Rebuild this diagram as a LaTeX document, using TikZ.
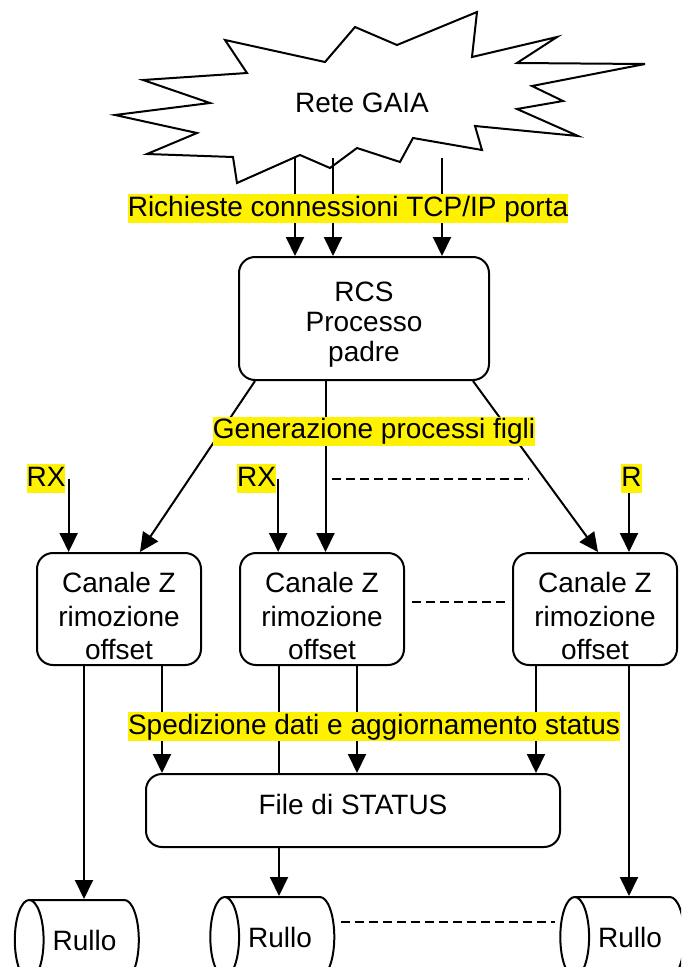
\documentclass[tikz,border=0pt]{standalone}
\usepackage{fontspec}
\setmainfont{Liberation Sans}
\usepackage{tikz}
\usetikzlibrary{arrows.meta}
\usetikzlibrary{shapes.geometric}
\tikzset{
  box/.style={draw, rounded corners=16pt, line width=2pt, align=center, inner sep=0pt, font=\fontsize{28}{30}\selectfont},
  chan/.style={minimum width=164pt, minimum height=112pt, font=\fontsize{28}{33.5}\selectfont},
  tag/.style={fill=yellow, inner xsep=0pt, inner ysep=1pt, text height=21pt, text depth=6pt, font=\fontsize{28}{32}\selectfont},
  roll/.style={draw, cylinder, shape border rotate=180, aspect=1.4, minimum width=80pt, minimum height=124pt, line width=2pt, inner sep=0pt, font=\fontsize{28}{32}\selectfont},
  link/.style={line width=2pt, -{Triangle[length=19pt,width=18pt]}},
  wire/.style={line width=2pt},
  gap/.style={line width=2pt, dash pattern=on 9pt off 5pt}
}

\begin{document}
\begin{tikzpicture}
\useasboundingbox (0pt, 0pt) rectangle (681pt, -967pt);
\clip (0pt, 0pt) rectangle (681pt, -967pt);
% rete
\draw [line width=2pt, fill=white] (225pt,-40pt) -- (247pt,-73pt) -- (143pt,-80pt) -- (210pt,-103pt) -- (115pt,-115pt) -- (197pt,-133pt) -- (147pt,-154pt) -- (233pt,-157pt) -- (237pt,-183pt) -- (300pt,-155pt) -- (330pt,-168pt) -- (357pt,-148pt) -- (400pt,-162pt) -- (413pt,-138pt) -- (482pt,-150pt) -- (475pt,-126pt) -- (578pt,-136pt) -- (517pt,-109pt) -- (563pt,-101pt) -- (532pt,-86pt) -- (645pt,-64pt) -- (517pt,-63pt) -- (557pt,-37pt) -- (472pt,-57pt) -- (477pt,-12pt) -- (397pt,-45pt) -- (355pt,-27pt) -- (325pt,-62pt) -- cycle;
\node (rete) [font=\fontsize{28}{32}\selectfont] at (362.0pt, -103.0pt) {Rete GAIA};
\coordinate (s1) at (295.0pt, -157.0pt);
\coordinate (s2) at (333.0pt, -158.0pt);
\coordinate (s3) at (442.0pt, -158.0pt);
% boxes
\node (rcs) [box, minimum width=250pt, minimum height=123pt] at (364.0pt, -318.5pt) {\rule{0pt}{32.5pt}RCS\\Processo\\padre};
\node (c1) [box, chan] at (119.0pt, -609.0pt) {\rule{0pt}{34.5pt}Canale Z\\rimozione\\offset};
\node (c2) [box, chan] at (322.0pt, -609.0pt) {\rule{0pt}{34.5pt}Canale Z\\rimozione\\offset};
\node (c3) [box, chan] at (595.0pt, -609.0pt) {\rule{0pt}{34.5pt}Canale Z\\rimozione\\offset};
\node (stat) [box, minimum width=414pt, minimum height=73pt, text depth=12pt] at (353.0pt, -810.5pt) {File di STATUS};
\node (r1) [roll] at (84.5pt, -940.0pt) {Rullo};
\node (r2) [roll] at (280.0pt, -937.0pt) {Rullo};
\node (r3) [roll] at (630.0pt, -937.0pt) {Rullo};
\node (rx1) [tag] at (46.0pt, -478.5pt) {RX};
\node (rx2) [tag] at (256.5pt, -478.5pt) {RX};
\node (rx3) [tag] at (631.5pt, -478.5pt) {R};
% arrows
\draw [link] (s1) -- (s1 |- rcs.north);
\draw [link] (s2) -- (s2 |- rcs.north);
\draw [link] (s3) -- (s3 |- rcs.north);
\draw [link] ([xshift=-109pt]rcs.south) -- ([xshift=21pt]c1.north);
\draw [link] ([xshift=-38.5pt]rcs.south) -- ([xshift=3.5pt]c2.north);
\draw [link] ([xshift=109pt]rcs.south) -- ([xshift=3pt]c3.north);
\draw [link] ([xshift=3pt]rx1.east) -- ([xshift=3pt]rx1.east |- c1.north);
\draw [link] ([xshift=2pt]rx2.east) -- ([xshift=2pt]rx2.east |- c2.north);
\draw [link] ([xshift=-2.5pt]rx3.south) -- ([xshift=-2.5pt]rx3.south |- c3.north);
\draw [link] ([xshift=-35pt]c1.south) -- ([xshift=-35pt]c1.south |- r1.north);
\draw [link] ([xshift=43pt]c1.south) -- ([xshift=43pt]c1.south |- stat.north);
\draw [wire] ([xshift=-43pt]c2.south) -- ([xshift=-43pt]c2.south |- stat.north);
\draw [link] ([xshift=35pt]c2.south) -- ([xshift=35pt]c2.south |- stat.north);
\draw [link] ([xshift=-59pt]c3.south) -- ([xshift=-59pt]c3.south |- stat.north);
\draw [link] ([xshift=34pt]c3.south) -- ([xshift=34pt]c3.south |- r3.north);
\draw [link] ([xshift=-74pt]stat.south) -- ([xshift=-74pt]stat.south |- r2.north);
% dashes
\coordinate (d1) at (332.0pt, -479.0pt);
\coordinate (d2) at (529.0pt, -479.0pt);
\coordinate (d3) at (341.0pt, -922.0pt);
\coordinate (d4) at (555.0pt, -922.0pt);
\draw [gap] (d1) -- (d2);
\draw [gap] ([xshift=7pt,yshift=7pt]c2.east) -- ([xshift=-7pt,yshift=7pt]c3.west);
\draw [gap] (d3) -- (d4);
% labels
\node (req) [tag] at (348.0pt, -208.5pt) {Richieste connessioni TCP/IP porta};
\node (gen) [tag] at (374.0pt, -431.0pt) {Generazione processi figli};
\node (sped) [tag] at (374.0pt, -726.5pt) {Spedizione dati e aggiornamento status};
\end{tikzpicture}
\end{document}
